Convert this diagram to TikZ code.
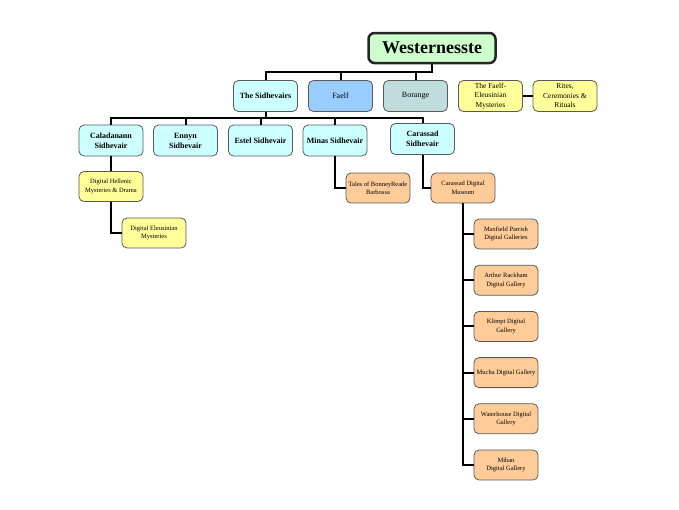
\documentclass[tikz,border=0pt]{standalone}
\usepackage{fontspec}
\setmainfont{Liberation Serif}
\usetikzlibrary{positioning}

\definecolor{topgreen}{HTML}{CCFFCC}
\definecolor{paleblue}{HTML}{CCFFFF}
\definecolor{faelfblue}{HTML}{99CCFF}
\definecolor{borgray}{HTML}{C0DCDC}
\definecolor{paleyel}{HTML}{FFFF99}
\definecolor{paleorg}{HTML}{FFCC99}

\begin{document}
\begin{tikzpicture}[x=1pt,y=-1pt,
  box/.style={draw=black!65,line width=0.8pt,rounded corners=5pt,minimum width=64pt,minimum height=31pt,inner sep=1pt,align=center,font=\fontsize{8}{10}\selectfont},
  bbox/.style={box,font=\fontsize{8}{10}\selectfont\bfseries},
  ybox/.style={box,fill=paleyel,font=\fontsize{7.5}{9.5}\selectfont},
  sbox/.style={box,minimum height=30pt,font=\fontsize{6.5}{8.5}\selectfont},
  topbox/.style={draw=black!85,line width=2.5pt,rounded corners=6pt,fill=topgreen,minimum width=127pt,minimum height=30pt,font=\fontsize{18}{20}\selectfont\bfseries},
  link/.style={line width=2pt}]
\useasboundingbox (0,0) rectangle (679,509);

\node[topbox] (west) at (432,48) {Westernesste};

\node[bbox,fill=paleblue] (sidh) at (265.5,96) {The Sidhevairs};
\node[box,fill=faelfblue] (faelf) at (340.5,96) {Faelf};
\node[box,fill=borgray] (bor) at (415.5,96) {Borange};
\node[ybox] (fem) at (490.5,96) {The Faelf-\\Eleusinian\\Mysteries};
\node[ybox] (rites) at (565,96) {Rites,\\Ceremonies \&\\Rituals};

\node[bbox,fill=paleblue] (cal) at (111,140.5) {Caladanann\\Sidhevair};
\node[bbox,fill=paleblue] (enn) at (185.5,140.5) {Ennyn\\Sidhevair};
\node[bbox,fill=paleblue] (est) at (260.5,140.5) {Estel Sidhevair};
\node[bbox,fill=paleblue] (minas) at (335,140.5) {Minas Sidhevair};
\node[bbox,fill=paleblue] (car) at (422.5,139) {Carassad\\Sidhevair};

\node[sbox,fill=paleyel] (hel) at (111,186.5) {Digital Hellenic\\Mysteries \& Drama};
\node[sbox,fill=paleyel] (eleu) at (154,233) {Digital Eleusinian\\Mysteries};
\node[sbox,fill=paleorg] (tales) at (378,188) {Tales of BonneyReade\\Barbossa};
\node[sbox,fill=paleorg] (mus) at (463,188) {Carassad Digital\\Museum};

\node[sbox,fill=paleorg] (g1) at (506,234) {Maxfield Parrish\\Digital Galleries};
\node[sbox,fill=paleorg] (g2) at (506,280.2) {Arthur Rackham\\Digital Gallery};
\node[sbox,fill=paleorg] (g3) at (506,326.4) {Klimpt Digital\\Gallery};
\node[sbox,fill=paleorg] (g4) at (506,372.6) {Mucha Digital Gallery};
\node[sbox,fill=paleorg] (g5) at (506,418.8) {Waterhouse Digital\\Gallery};
\node[sbox,fill=paleorg] (g6) at (506,465) {Mihan\\Digital Gallery};

\draw[link] (west.south) -- (west.south |- 0,72) -| (sidh.north);
\draw[link] (faelf.north) -- (faelf.north |- 0,72);
\draw[link] (bor.north) -- (bor.north |- 0,72);
\draw[link] (fem) -- (rites);

\draw[link] (sidh.south) -- (sidh.south |- 0,118);
\draw[link] (cal.north) |- (car.north |- 0,118) -- (car.north);
\draw[link] (enn.north) -- (enn.north |- 0,118);
\draw[link] (est.north) -- (est.north |- 0,118);
\draw[link] (minas.north) -- (minas.north |- 0,118);

\draw[link] (cal.south) -- (hel.north);
\draw[link] (hel.south) |- (eleu.west);
\draw[link] (minas.south) |- (tales.west);
\draw[link] (car.south) |- (mus.west);
\foreach \i in {1,...,6}
  \draw[link] (mus.south) |- (g\i.west);
\end{tikzpicture}
\end{document}
